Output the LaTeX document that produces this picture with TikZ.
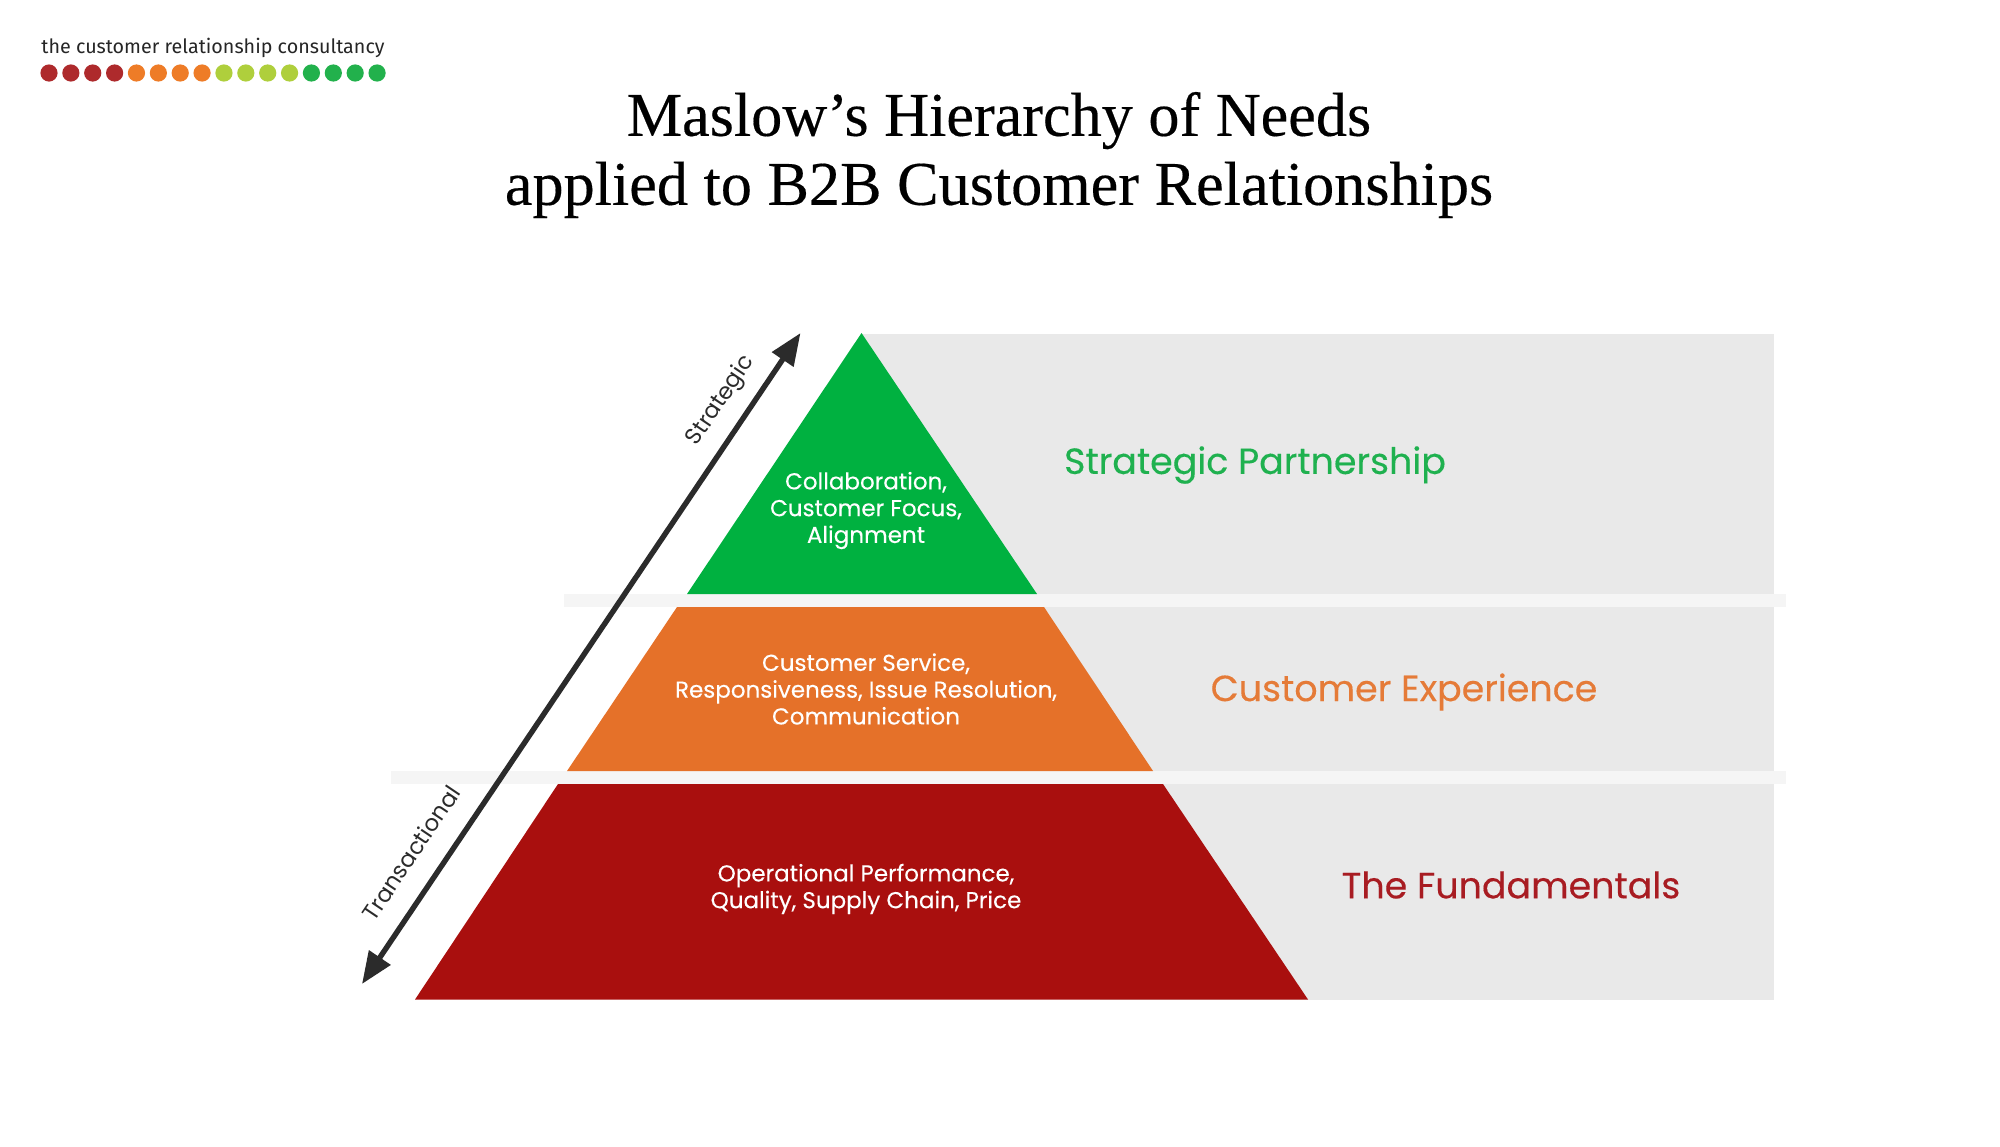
\documentclass[tikz,border=0pt]{standalone}
\usepackage{fontspec}
\setmainfont{Poppins}
\newfontfamily\titlefont[FakeBold=0.3]{Liberation Serif}
\newfontfamily\logofont{Fira Sans}
\newfontfamily\labelfont[FakeBold=0.25]{Poppins}
\usetikzlibrary{arrows.meta}
\definecolor{panelgrey}{HTML}{E9E9E9}
\definecolor{bandgrey}{HTML}{F5F5F5}
\definecolor{tiergreen}{HTML}{00B140}
\definecolor{tierorange}{HTML}{E57129}
\definecolor{tierred}{HTML}{A90F0E}
\definecolor{headgreen}{HTML}{1FB14F}
\definecolor{headorange}{HTML}{E57B38}
\definecolor{headred}{HTML}{A81C22}
\definecolor{arrowdark}{HTML}{2B2B2B}
\definecolor{dotred}{HTML}{AE2A2C}
\definecolor{dotorange}{HTML}{EE7C27}
\definecolor{dotlime}{HTML}{AFCF3C}
\definecolor{dotgreen}{HTML}{22B14C}
\tikzset{
  x=0.5pt,y=-0.5pt,
  tiertext/.style={text=white,align=center,font=\labelfont\fontsize{11.5}{13.4}\selectfont,inner sep=0pt},
  heading/.style={font=\labelfont\fontsize{18.2}{20}\selectfont,inner sep=0pt},
  sidelabel/.style={text=arrowdark,font=\fontsize{11.4}{14}\selectfont,inner sep=0pt,rotate=56},
  spread/.style={line width=2.7pt,arrowdark,{Triangle[length=16pt,width=12.5pt]}-{Triangle[length=16pt,width=12.5pt]}},
  logodot/.style={circle,fill=#1,minimum size=8.6pt,inner sep=0pt}
}
\begin{document}
\begin{tikzpicture}
\useasboundingbox[fill=white] (0,0) rectangle (2000,1146);

% company mark
\node[inner sep=0pt,text=black!85,font=\logofont\fontsize{9.85}{12}\selectfont] (logotext) at (213,47.5) {the customer relationship consultancy};
\foreach \i/\c in {0/dotred,1/dotred,2/dotred,3/dotred,4/dotorange,5/dotorange,6/dotorange,7/dotorange,8/dotlime,9/dotlime,10/dotlime,11/dotlime,12/dotgreen,13/dotgreen,14/dotgreen,15/dotgreen}
  \node[logodot=\c] (dot\i) at ({49+21.87*\i},73) {};

% heading
\node[inner sep=0pt,align=center,font=\titlefont\fontsize{31.1}{34.5}\selectfont] (title) at (999,155) {Maslow’s Hierarchy of Needs\\applied to B2B Customer Relationships};

% grey panels behind the pyramid
\fill[panelgrey] (861,334) rectangle (1774,594);
\fill[panelgrey] (1000,607) rectangle (1774,771);
\fill[panelgrey] (1100,784) rectangle (1774,1000);

% separators between levels
\fill[bandgrey] (564,594) rectangle (1786,607);
\fill[bandgrey] (391,771) rectangle (1786,784);

% pyramid levels
\fill[tiergreen] (861.5,333) -- (1037,594) -- (687,594) -- cycle;
\fill[tierorange] (677,607) -- (1044,607) -- (1153,771) -- (567,771) -- cycle;
\fill[tierred] (558,784) -- (1163,784) -- (1308,999.5) -- (415,999.5) -- cycle;

% level contents
\node[tiertext] (topitems) at (866,510.5) {Collaboration,\\Customer Focus,\\Alignment};
\node[tiertext] (miditems) at (866,689) {Customer Service,\\Responsiveness, Issue Resolution,\\Communication};
\node[tiertext] (baseitems) at (866,889) {Operational Performance,\\Quality, Supply Chain, Price};

% level names
\node[heading,text=headgreen] (topname) at (1255,465) {Strategic Partnership};
\node[heading,text=headorange] (midname) at (1404,692) {Customer Experience};
\node[heading,text=headred] (basename) at (1511,885) {The Fundamentals};

% transactional to strategic scale
\coordinate (upper) at (800.5,333);
\coordinate (lower) at (362,984);
\draw[spread] (lower) -- (upper);
\node[sidelabel] (strategic) at (721,401) {Strategic};
\node[sidelabel] (transactional) at (411,853) {Transactional};
\end{tikzpicture}
\end{document}
